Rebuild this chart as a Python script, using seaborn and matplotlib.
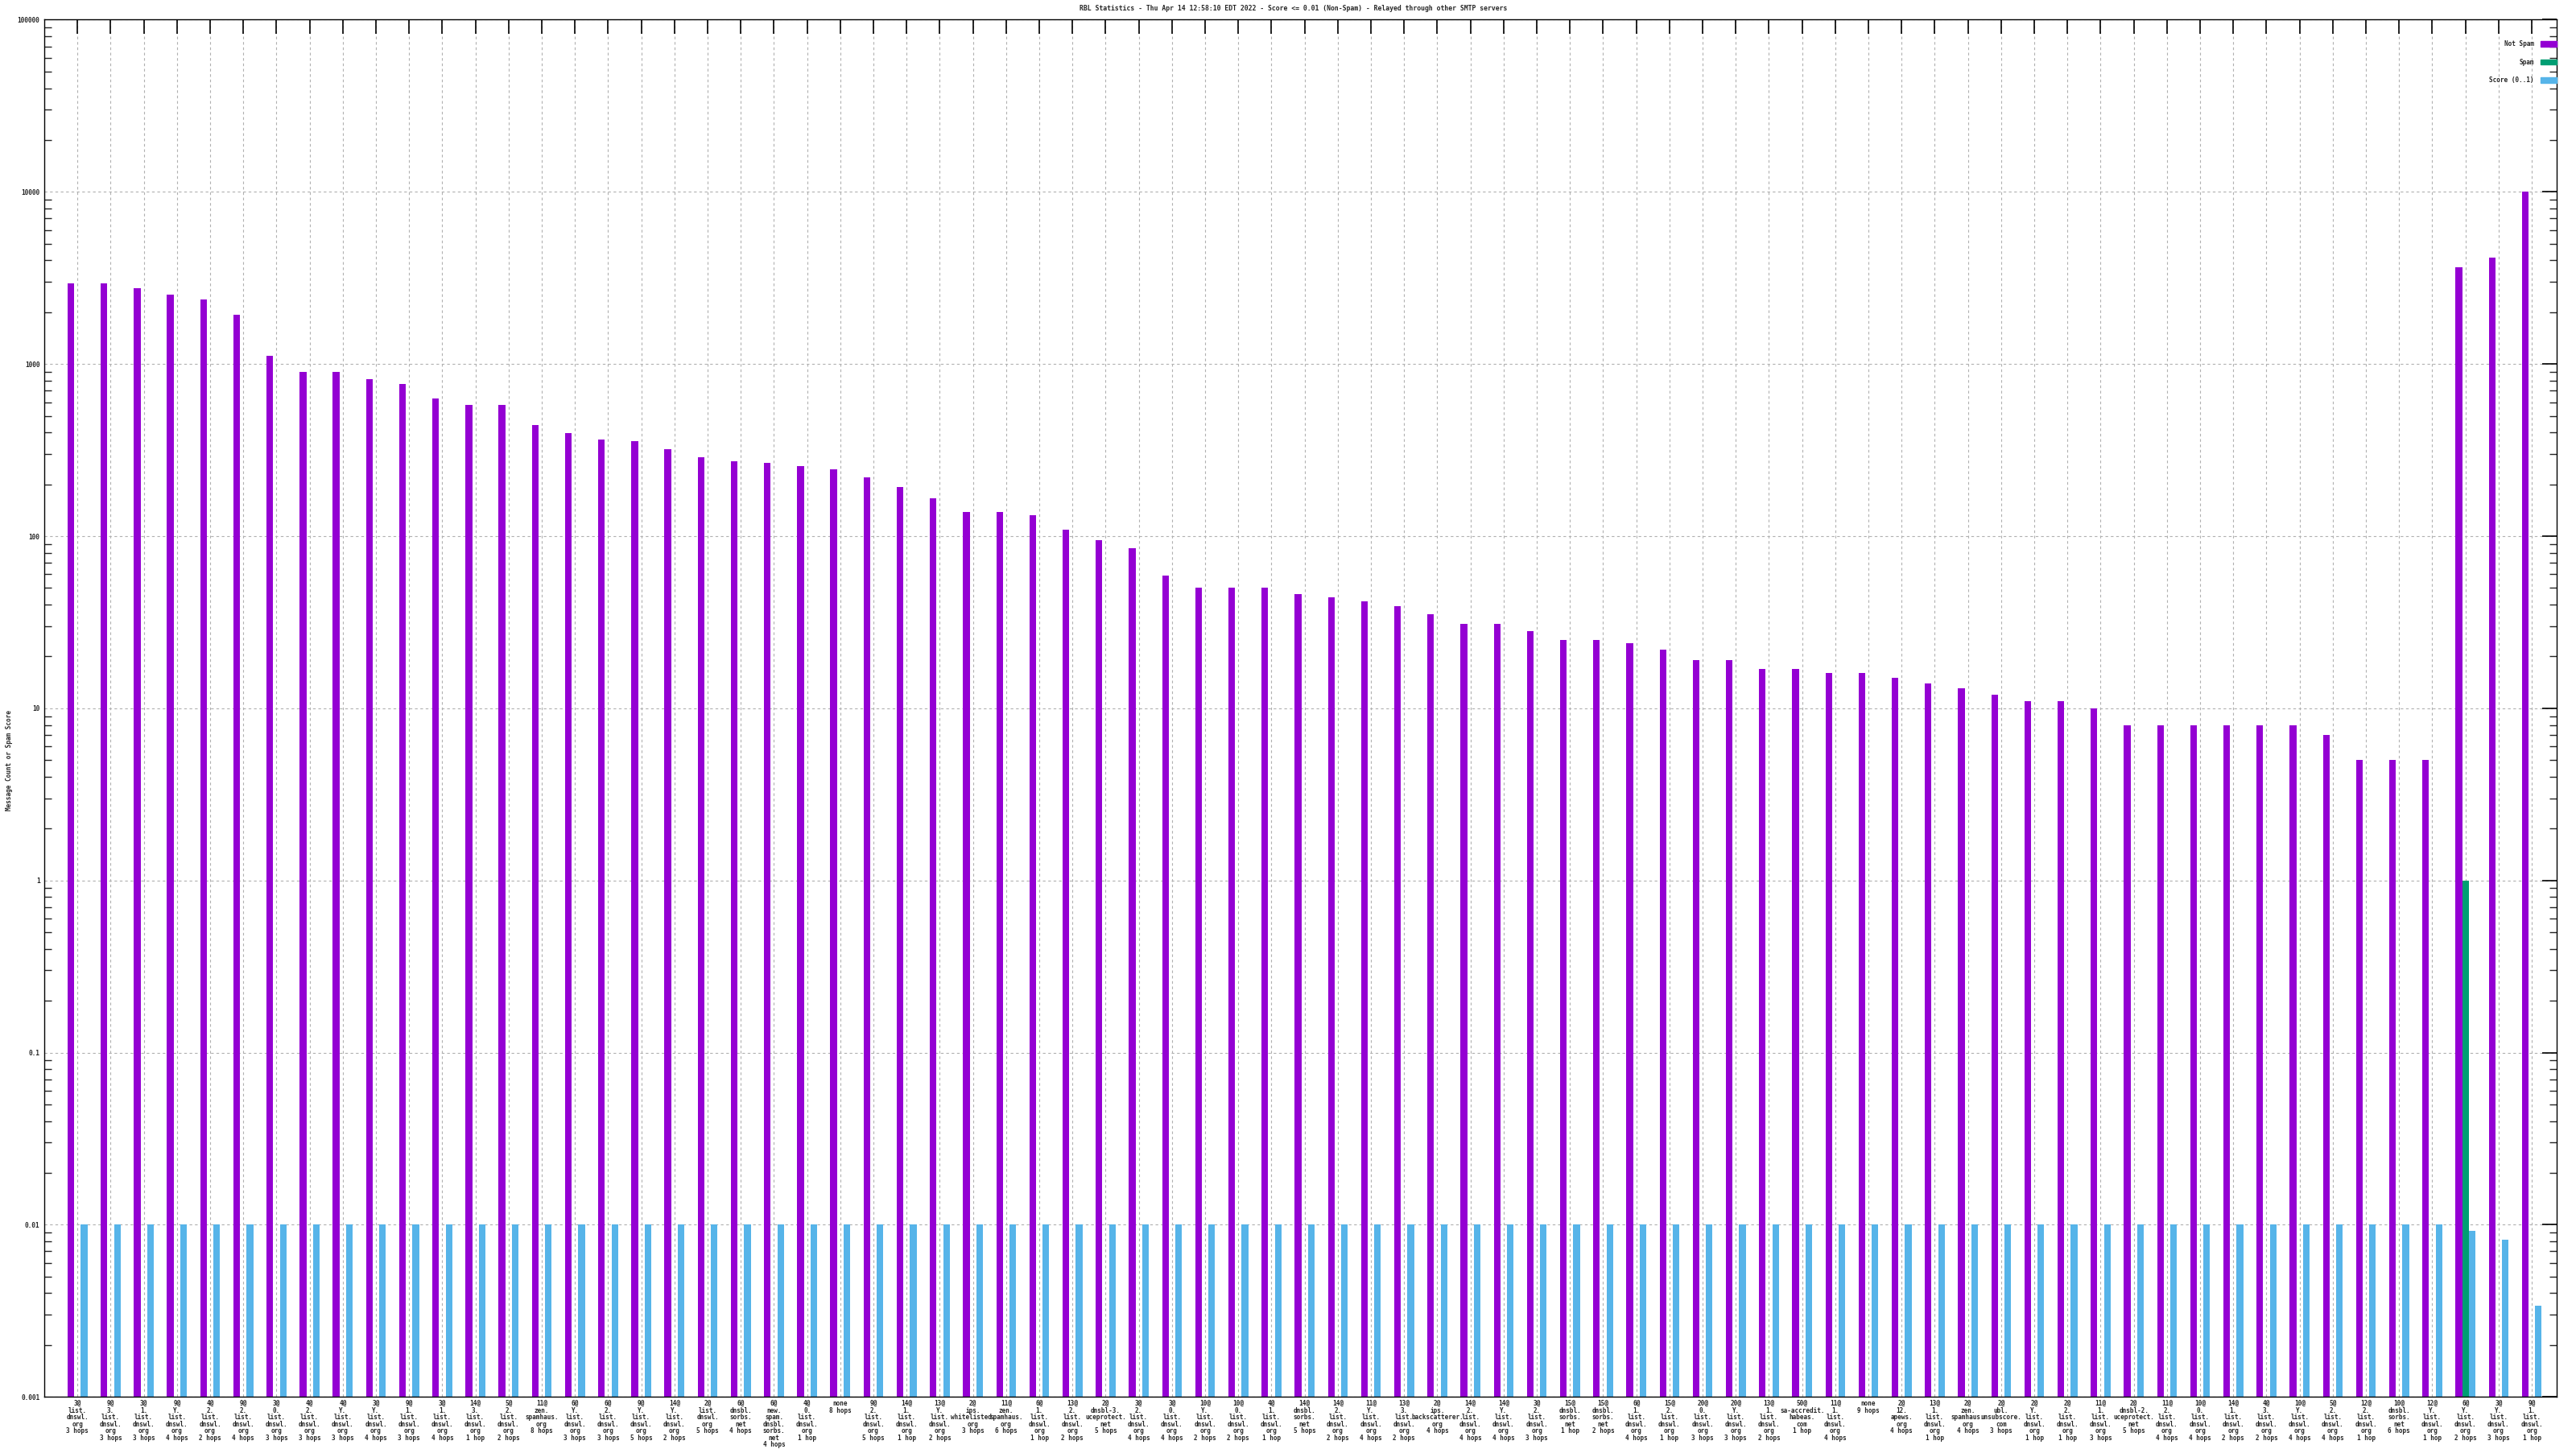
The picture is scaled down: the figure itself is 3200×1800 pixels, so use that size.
import pandas as pd
import matplotlib.pyplot as plt
import matplotlib.ticker as mticker
import seaborn as sns

# Categories (one per RBL / hop-count combination), bottom tick labels
labels = [
    "3@\nlist.\ndnswl.\norg\n3 hops",
    "9@\n3.\nlist.\ndnswl.\norg\n3 hops",
    "3@\n1.\nlist.\ndnswl.\norg\n3 hops",
    "9@\nY.\nlist.\ndnswl.\norg\n4 hops",
    "4@\n2.\nlist.\ndnswl.\norg\n2 hops",
    "9@\n2.\nlist.\ndnswl.\norg\n4 hops",
    "3@\n0.\nlist.\ndnswl.\norg\n3 hops",
    "4@\n2.\nlist.\ndnswl.\norg\n3 hops",
    "4@\nY.\nlist.\ndnswl.\norg\n3 hops",
    "3@\nY.\nlist.\ndnswl.\norg\n4 hops",
    "9@\n1.\nlist.\ndnswl.\norg\n3 hops",
    "3@\n1.\nlist.\ndnswl.\norg\n4 hops",
    "14@\n3.\nlist.\ndnswl.\norg\n1 hop",
    "5@\n2.\nlist.\ndnswl.\norg\n2 hops",
    "11@\nzen.\nspamhaus.\norg\n8 hops",
    "6@\nY.\nlist.\ndnswl.\norg\n3 hops",
    "6@\n2.\nlist.\ndnswl.\norg\n3 hops",
    "9@\nY.\nlist.\ndnswl.\norg\n5 hops",
    "14@\nY.\nlist.\ndnswl.\norg\n2 hops",
    "2@\nlist.\ndnswl.\norg\n5 hops",
    "6@\ndnsbl.\nsorbs.\nnet\n4 hops",
    "6@\nnew.\nspam.\ndnsbl.\nsorbs.\nnet\n4 hops",
    "4@\n0.\nlist.\ndnswl.\norg\n1 hop",
    "none\n8 hops",
    "9@\n2.\nlist.\ndnswl.\norg\n5 hops",
    "14@\n1.\nlist.\ndnswl.\norg\n1 hop",
    "13@\nY.\nlist.\ndnswl.\norg\n2 hops",
    "2@\nips.\nwhitelisted.\norg\n3 hops",
    "11@\nzen.\nspamhaus.\norg\n6 hops",
    "6@\n1.\nlist.\ndnswl.\norg\n1 hop",
    "13@\n2.\nlist.\ndnswl.\norg\n2 hops",
    "2@\ndnsbl-3.\nuceprotect.\nnet\n5 hops",
    "3@\n2.\nlist.\ndnswl.\norg\n4 hops",
    "3@\n0.\nlist.\ndnswl.\norg\n4 hops",
    "10@\nY.\nlist.\ndnswl.\norg\n2 hops",
    "10@\n0.\nlist.\ndnswl.\norg\n2 hops",
    "4@\n1.\nlist.\ndnswl.\norg\n1 hop",
    "14@\ndnsbl.\nsorbs.\nnet\n5 hops",
    "14@\n2.\nlist.\ndnswl.\norg\n2 hops",
    "11@\nY.\nlist.\ndnswl.\norg\n4 hops",
    "13@\n3.\nlist.\ndnswl.\norg\n2 hops",
    "2@\nips.\nbackscatterer.\norg\n4 hops",
    "14@\n2.\nlist.\ndnswl.\norg\n4 hops",
    "14@\nY.\nlist.\ndnswl.\norg\n4 hops",
    "3@\n2.\nlist.\ndnswl.\norg\n3 hops",
    "15@\ndnsbl.\nsorbs.\nnet\n1 hop",
    "15@\ndnsbl.\nsorbs.\nnet\n2 hops",
    "6@\n1.\nlist.\ndnswl.\norg\n4 hops",
    "15@\n2.\nlist.\ndnswl.\norg\n1 hop",
    "20@\n0.\nlist.\ndnswl.\norg\n3 hops",
    "20@\nY.\nlist.\ndnswl.\norg\n3 hops",
    "13@\n1.\nlist.\ndnswl.\norg\n2 hops",
    "50@\nsa-accredit.\nhabeas.\ncom\n1 hop",
    "11@\n1.\nlist.\ndnswl.\norg\n4 hops",
    "none\n9 hops",
    "2@\n12.\napews.\norg\n4 hops",
    "13@\n1.\nlist.\ndnswl.\norg\n1 hop",
    "2@\nzen.\nspamhaus.\norg\n4 hops",
    "2@\nubl.\nunsubscore.\ncom\n3 hops",
    "2@\nY.\nlist.\ndnswl.\norg\n1 hop",
    "2@\n2.\nlist.\ndnswl.\norg\n1 hop",
    "11@\n1.\nlist.\ndnswl.\norg\n3 hops",
    "2@\ndnsbl-2.\nuceprotect.\nnet\n5 hops",
    "11@\n2.\nlist.\ndnswl.\norg\n4 hops",
    "10@\n0.\nlist.\ndnswl.\norg\n4 hops",
    "14@\n1.\nlist.\ndnswl.\norg\n2 hops",
    "4@\n3.\nlist.\ndnswl.\norg\n2 hops",
    "10@\nY.\nlist.\ndnswl.\norg\n4 hops",
    "5@\n2.\nlist.\ndnswl.\norg\n4 hops",
    "12@\n2.\nlist.\ndnswl.\norg\n1 hop",
    "10@\ndnsbl.\nsorbs.\nnet\n6 hops",
    "12@\nY.\nlist.\ndnswl.\norg\n1 hop",
    "6@\nY.\nlist.\ndnswl.\norg\n2 hops",
    "3@\nY.\nlist.\ndnswl.\norg\n3 hops",
    "9@\n1.\nlist.\ndnswl.\norg\n1 hop",
]

not_spam = [
    2940, 2940, 2750, 2520, 2360, 1930, 1120, 896, 896, 820,
    768, 630, 577, 577, 443, 397, 364, 356, 319, 286,
    273, 267, 256, 245, 219, 192, 165, 138, 138, 132,
    109, 95, 85, 59, 50, 50, 50, 46, 44, 42,
    39, 35, 31, 31, 28, 25, 25, 24, 22, 19,
    19, 17, 17, 16, 16, 15, 14, 13, 12, 11,
    11, 10, 8, 8, 8, 8, 8, 8, 7, 5,
    5, 5, 3660, 4170, 10000,
]

spam = [0] * 72 + [1, 0, 0]

score = [0.01] * 72 + [0.0092, 0.0082, 0.0034]

series_names = ["Not Spam", "Spam", "Score (0..1)"]
series_colors = ["#9400d3", "#009e73", "#56b4e9"]


def plot_rbl_stats():
    df = pd.DataFrame({
        "pos": list(range(len(labels))) * 3,
        "series": [series_names[0]] * len(labels)
        + [series_names[1]] * len(labels)
        + [series_names[2]] * len(labels),
        "value": not_spam + spam + score,
    })

    sns.set_style("white")
    plt.rcParams["font.family"] = ["DejaVu Sans Mono", "DejaVu Sans"]
    plt.rcParams["font.weight"] = "bold"

    fig = plt.figure(figsize=(32, 18), dpi=100)
    ax = fig.add_axes([0.0172, 0.036, 0.9753, 0.9504])

    sns.barplot(
        data=df, x="pos", y="value", hue="series",
        hue_order=series_names, palette=series_colors,
        width=0.6, errorbar=None, saturation=1, linewidth=0,
        legend=False, ax=ax,
    )

    ax.set_yscale("log")
    ax.set_ylim(0.001, 100000)
    ax.set_xlim(-1.0, len(labels) - 0.25)

    # y ticks in gnuplot style
    ax.yaxis.set_major_locator(mticker.LogLocator(base=10, numticks=20))
    ax.yaxis.set_minor_locator(mticker.LogLocator(base=10, subs=range(2, 10), numticks=20))
    ax.yaxis.set_major_formatter(mticker.FuncFormatter(lambda v, p: "%g" % v))
    ax.yaxis.set_minor_formatter(mticker.NullFormatter())

    ax.set_xticks(range(len(labels)))
    ax.set_xticklabels(labels, fontsize=5.5, linespacing=0.93)

    ax.tick_params(axis="both", which="major", direction="in", length=13,
                   width=1.2, top=True, right=True, color="black")
    ax.tick_params(axis="y", which="minor", direction="in", length=6.5,
                   width=1.0, left=True, right=True)
    ax.tick_params(axis="y", which="major", labelsize=5.6, pad=4)
    ax.tick_params(axis="x", which="major", pad=3)

    ax.grid(True, which="major", axis="both", color="#b0b0b0",
            linestyle=(0, (3, 3)), linewidth=0.8)
    ax.set_axisbelow(True)

    for spine in ax.spines.values():
        spine.set_visible(True)
        spine.set_color("black")
        spine.set_linewidth(1.0)

    ax.set_xlabel("")
    ax.set_ylabel("")

    # legend: text first, colour swatch on the right
    handles = [plt.Rectangle((0, 0), 1, 1, color=c) for c in series_colors]
    ax.legend(handles, series_names, loc="upper right",
              bbox_to_anchor=(1.0, 0.985), frameon=False, markerfirst=False,
              fontsize=5.6, handlelength=2.6, handleheight=0.9,
              labelspacing=1.75, borderaxespad=0, borderpad=0, handletextpad=1.0)

    fig.text(0.502, 0.9944,
             "RBL Statistics - Thu Apr 14 12:58:10 EDT 2022 - Score <= 0.01 (Non-Spam) - Relayed through other SMTP servers",
             ha="center", va="center", fontsize=5.9)
    fig.text(0.0035, 0.475, "Message Count or Spam Score", rotation=90,
             ha="center", va="center", fontsize=5.6)

    fig.savefig("out.png", dpi=100)
    print("Grafico 'out.png' guardado.")


if __name__ == "__main__":
    plot_rbl_stats()
